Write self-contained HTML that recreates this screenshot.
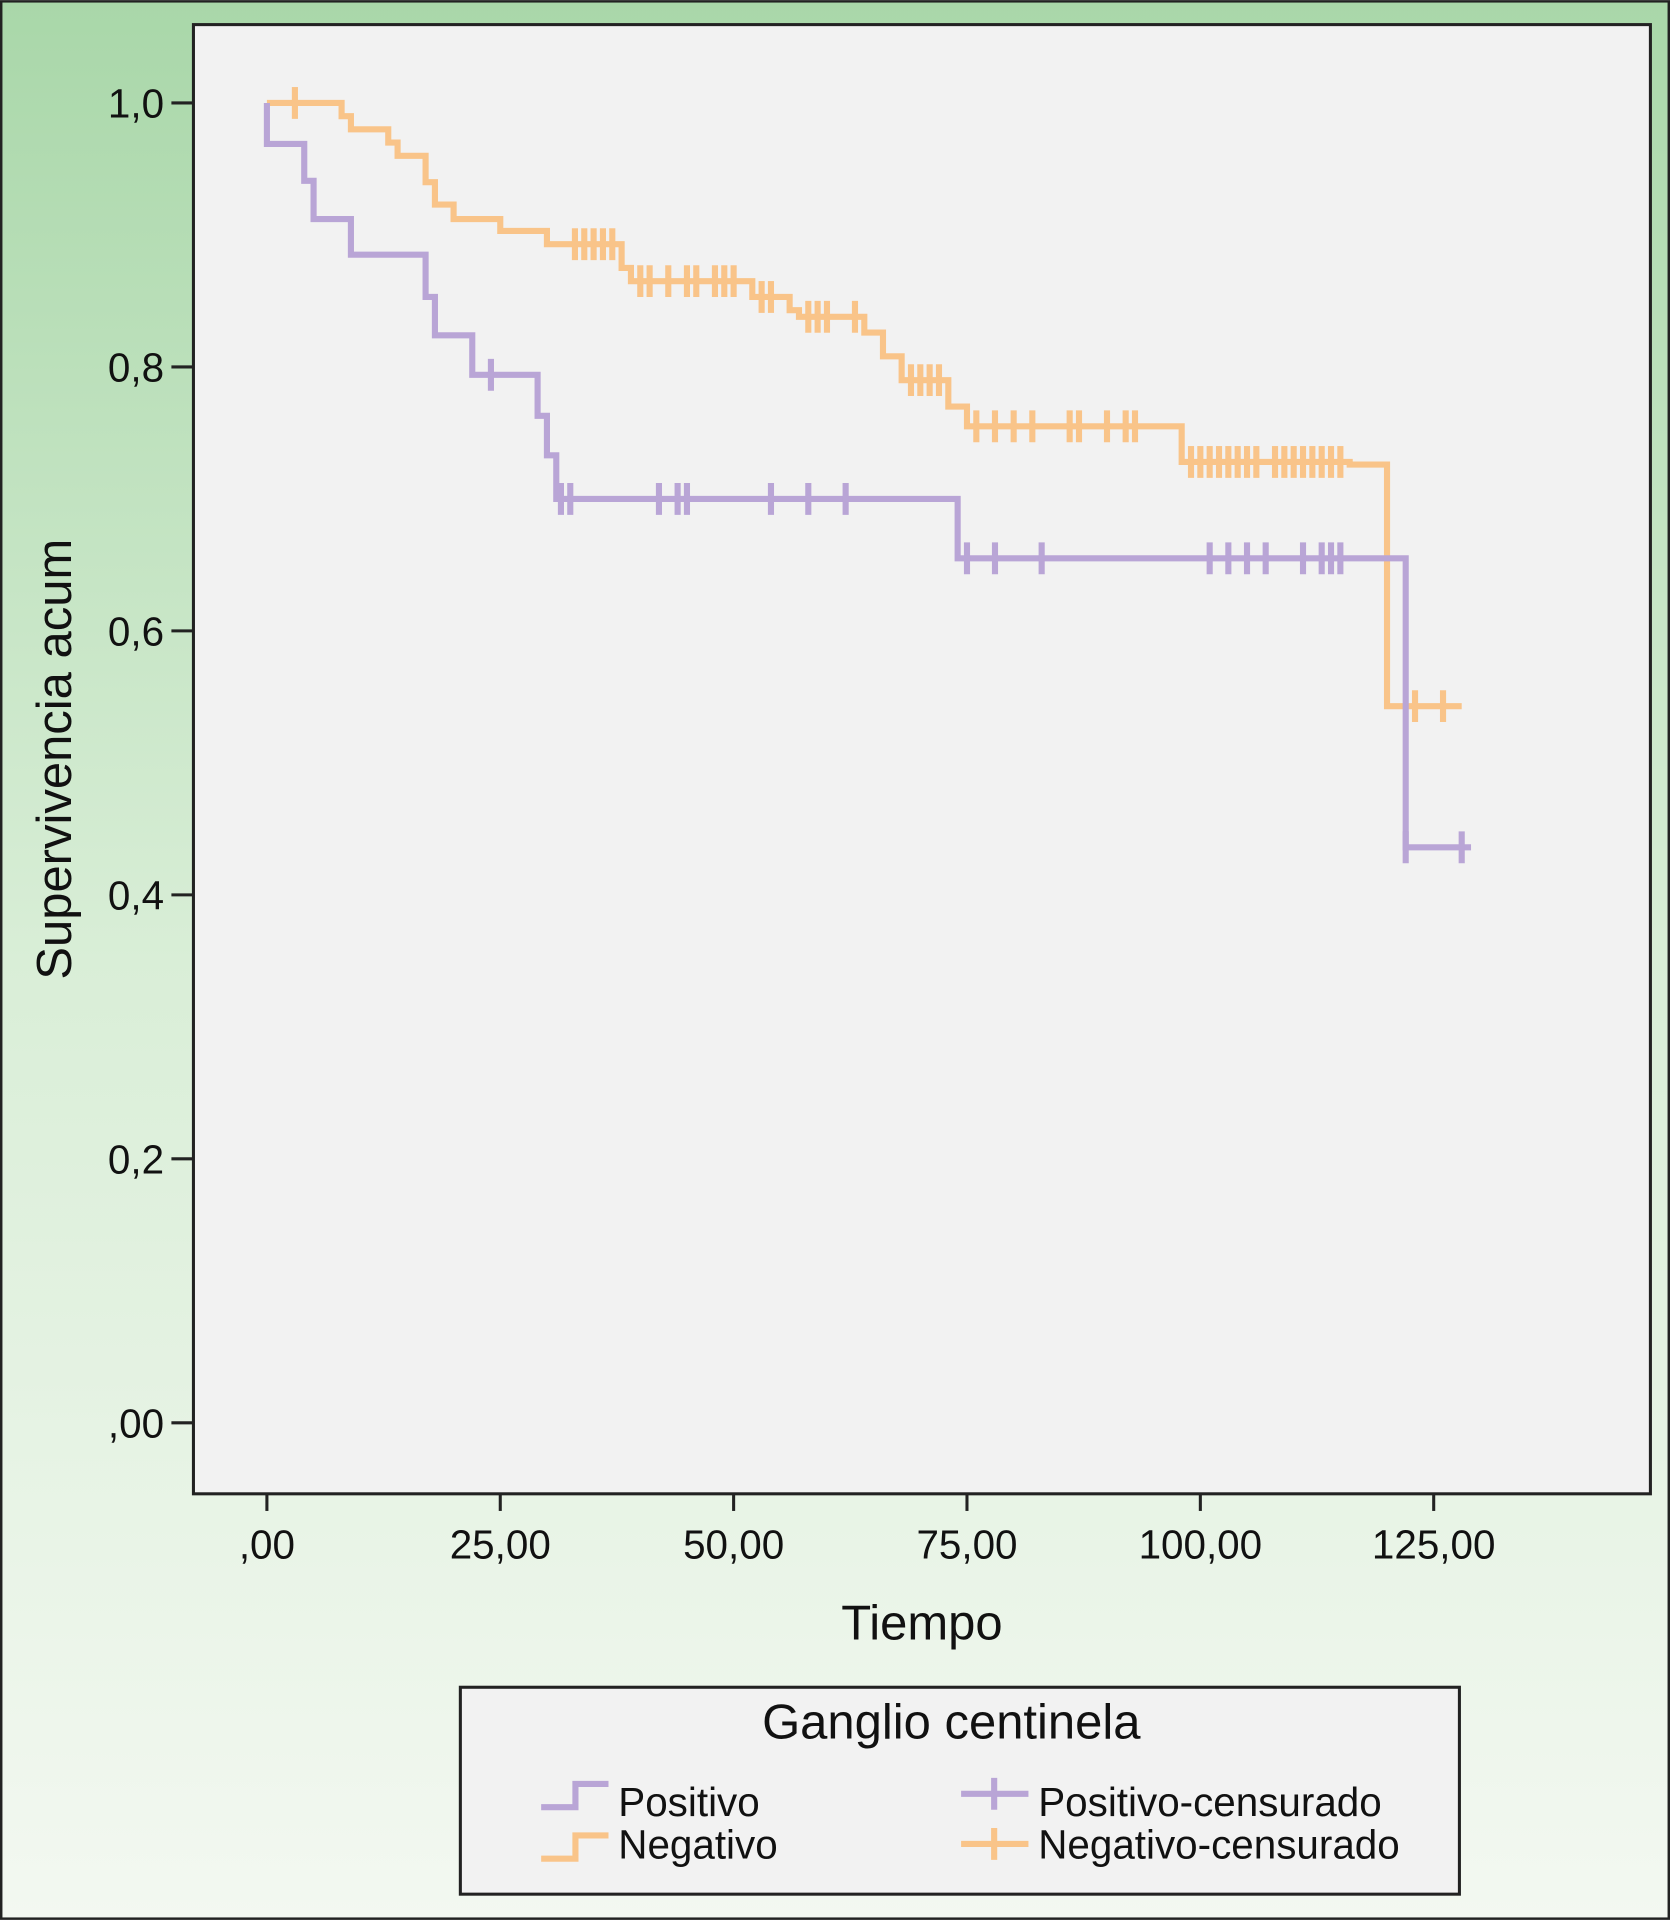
<!DOCTYPE html>
<html><head><meta charset="utf-8"><style>
html,body{margin:0;padding:0;width:1670px;height:1920px;overflow:hidden;background:#fff}
svg{display:block}
text{font-family:"Liberation Sans",Arial,sans-serif;fill:#111}
</style></head><body>
<svg id="chart" width="1670" height="1920" viewBox="0 0 1364 1568" xmlns="http://www.w3.org/2000/svg">
<defs><linearGradient id="bg" x1="0" y1="0" x2="0" y2="1">
<stop offset="0" stop-color="#a9d7a9"/><stop offset="0.5" stop-color="#d9eed7"/><stop offset="1" stop-color="#f3f8f1"/></linearGradient></defs>
<rect x="1" y="1" width="1362" height="1566" fill="url(#bg)" stroke="#222" stroke-width="2"/>
<rect x="158" y="20" width="1190" height="1200" fill="#f2f2f2" stroke="#222" stroke-width="2.5"/>
<g id="axes"></g>
<g id="series"></g>
<text x="753" y="1339" font-size="40" text-anchor="middle">Tiempo</text>
<text transform="translate(58,620) rotate(-90)" font-size="40" text-anchor="middle">Supervivencia acum</text>
<g>
<rect x="376" y="1378" width="816" height="169" fill="#f2f2f2" stroke="#222" stroke-width="2.5"/>
<text x="777" y="1420" font-size="40" text-anchor="middle">Ganglio centinela</text>
<g><path d="M442 1476 H470 V1457 H497" fill="none" stroke="#b9a5d6" stroke-width="5"/><text x="505" y="1483" font-size="33">Positivo</text></g>
<g><path d="M442 1518 H470 V1499 H497" fill="none" stroke="#f9c489" stroke-width="5"/><text x="505" y="1518" font-size="33">Negativo</text></g>
<g><path d="M785 1465 H840 M812 1452 V1478" fill="none" stroke="#b9a5d6" stroke-width="5"/><text x="848" y="1483" font-size="33">Positivo-censurado</text></g>
<g><path d="M785 1506 H840 M812 1493 V1519" fill="none" stroke="#f9c489" stroke-width="5"/><text x="848" y="1518" font-size="33">Negativo-censurado</text></g>
</g>
</svg>
<script>
const xTicks=[0,25,50,75,100,125];
const xTickLabels=[",00","25,00","50,00","75,00","100,00","125,00"];
const yTicks=[0,0.2,0.4,0.6,0.8,1.0];
const yTickLabels=[",00","0,2","0,4","0,6","0,8","1,0"];
const posTimes=[0,0,4,5,9,17,18,22,29,30,31,74,122,129];
const posSurv=[1.0,0.969,0.941,0.912,0.885,0.853,0.824,0.794,0.763,0.733,0.70,0.655,0.436,0.436];
const posCensor=[24,31.5,32.5,42,44,45,54,58,62,75,78,83,101,103,105,107,111,113,114,115,122,128];
const negTimes=[0,8,9,13,14,17,18,20,25,30,38,39,52,56,57,64,66,68,73,75,98,116,120,128];
const negSurv=[1.0,0.99,0.98,0.97,0.96,0.94,0.923,0.912,0.903,0.893,0.875,0.865,0.853,0.843,0.838,0.826,0.808,0.79,0.77,0.755,0.728,0.726,0.543,0.543];
const negCensor=[3,33,34,35,36,37,40,41,43,45,46,48,49,50,53,54,58,59,60,63,69,70,71,72,76,78,80,82,86,87,90,92,93,99,100,101,102,103,104,105,106,108,109,110,111,112,113,114,115,123,126];
const X=t=>218+t*7.624, Y=s=>1162-s*1078;
const NS="http://www.w3.org/2000/svg";
function mk(tag,attrs,parent){const e=document.createElementNS(NS,tag);for(const k in attrs)e.setAttribute(k,attrs[k]);parent.appendChild(e);return e;}
const ax=document.getElementById('axes');
xTicks.forEach((t,i)=>{
 const l=mk('line',{x1:X(t),x2:X(t),y1:1220,y2:1234,stroke:'#222','stroke-width':2.5},ax);
 
 
 const tx=mk('text',{x:X(t),y:1273,'font-size':33,'text-anchor':'middle'},ax);tx.textContent=xTickLabels[i];
 
 
});
yTicks.forEach((v,i)=>{
 const l=mk('line',{x1:140,x2:158,y1:Y(v),y2:Y(v),stroke:'#222','stroke-width':2.5},ax);
 
 
 const tx=mk('text',{x:134,y:Y(v)+12,'font-size':33,'text-anchor':'end'},ax);tx.textContent=yTickLabels[i];
 
 
});
const sg=document.getElementById('series');
function survAt(times,surv,t){let s=surv[0];for(let i=0;i<times.length;i++){if(times[i]<=t)s=surv[i];}return s;}
function drawSeries(times,surv,cens,color,name){
 let d='M'+X(times[0])+' '+Y(surv[0]);
 for(let i=1;i<times.length;i++){d+=' H'+X(times[i])+' V'+Y(surv[i]);}
 const p=mk('path',{d:d,fill:'none',stroke:color,'stroke-width':5},sg);
 
 
 cens.forEach(t=>{
  const s=survAt(times,surv,t);
  const c=mk('line',{x1:X(t),x2:X(t),y1:Y(s)-13,y2:Y(s)+13,stroke:color,'stroke-width':5},sg);
  
  
 });
}
drawSeries(negTimes,negSurv,negCensor,'#f9c489','negativo');
drawSeries(posTimes,posSurv,posCensor,'#b9a5d6','positivo');
</script>
</body></html>
